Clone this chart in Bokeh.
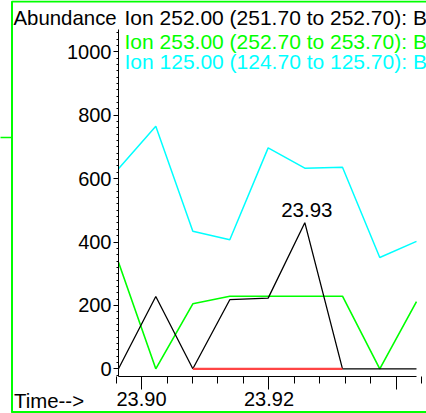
import numpy as np
from bokeh.plotting import figure
from bokeh.models import (Range1d, FixedTicker, SingleIntervalTicker, Label,
                          BoxAnnotation, ColumnDataSource, PrintfTickFormatter,
                          LinearAxis)
from bokeh.embed import file_html
from bokeh.resources import INLINE

# ---- data ----
times = [23.89639, 23.90224, 23.90805, 23.91385, 23.91987,
         23.92562, 23.93153, 23.93738, 23.94314]
ion252 = [0, 228, 0, 218, 223, 461, 0, 0, 0]
ion253 = [336, 0, 205, 229, 229, 229, 229, 0, 212]
ion125 = [631, 765, 434, 407, 697, 633, 636, 351, 402]
baseline_red = [np.nan, np.nan, 0, 0, 0, 0, 0, np.nan, np.nan]

legend_texts = ["Ion 252.00 (251.70 to 252.70): B",
                "Ion 253.00 (252.70 to 253.70): B",
                "Ion 125.00 (124.70 to 125.70): B"]
legend_colors = ["#000000", "#00ff00", "#00ffff"]
y_title = "Abundance"
x_title = "Time-->"

x_major = [23.90, 23.92, 23.94]
x_minor = [round(23.896 + 0.004 * i, 3) for i in range(13)]
x_label_over = {23.94: ""}
peak_label = "23.93"
peak_index = 5
y_axis_bottom = -23
y_axis_top = 1070

# ---- layout (pixels) ----
W, H = 426, 413
X0_PX = 118.0            # pixel of first scan
XSCALE = 6374.0          # px per minute
Y0_PX = 368.3            # pixel of zero abundance
YSCALE = 0.317           # px per count
BASE_FIX = 5.5           # label baseline correction

FONT = "Liberation Sans"
FS = "20px"

x_start = times[0] - X0_PX / XSCALE
x_end = times[0] + (W - X0_PX) / XSCALE
y_start = -(H - Y0_PX) / YSCALE
y_end = Y0_PX / YSCALE

p = figure(width=W, height=H, output_backend="svg", toolbar_location=None,
           title=None, x_axis_type=None, y_axis_type=None,
           x_range=Range1d(x_start, x_end), y_range=Range1d(y_start, y_end),
           min_border=0)
p.outline_line_color = None
p.xgrid.visible = False
p.ygrid.visible = False
p.background_fill_color = "white"
p.border_fill_color = "white"

xa = LinearAxis(fixed_location=y_axis_bottom, bounds=(times[0], times[-1]))
ya = LinearAxis(fixed_location=times[0], bounds=(y_axis_bottom, y_axis_top))
p.add_layout(xa, "below")
p.add_layout(ya, "left")

src = ColumnDataSource(dict(t=times, a=ion252, b=ion253, c=ion125, r=baseline_red))
p.line("t", "c", source=src, color="#00ffff", line_width=1.5)
p.line("t", "b", source=src, color="#00ff00", line_width=1.6)
p.line("t", "a", source=src, color="#000000", line_width=1.3)
p.line("t", "r", source=src, color="#ff4444", line_width=2.2)

xa.ticker = FixedTicker(ticks=x_major, minor_ticks=x_minor)
xa.formatter = PrintfTickFormatter(format="%.2f")
xa.major_label_overrides = x_label_over
xa.major_tick_out = 13
xa.major_tick_in = 0
xa.minor_tick_out = 7
xa.minor_tick_in = 0
xa.major_label_standoff = 3
ya.ticker = SingleIntervalTicker(interval=200, num_minor_ticks=10)
ya.major_tick_out = 5
ya.major_tick_in = 0
ya.minor_tick_out = 2
ya.minor_tick_in = 0
ya.major_label_standoff = 2
for ax in (xa, ya):
    ax.axis_line_color = "black"
    ax.major_tick_line_color = "black"
    ax.minor_tick_line_color = "black"
    ax.major_label_text_font = FONT
    ax.major_label_text_font_size = FS
    ax.major_label_text_color = "black"

# peak label
p.add_layout(Label(x=times[peak_index], y=ion252[peak_index], text=peak_label,
                   text_font=FONT, text_font_size="20.5px", text_align="center",
                   text_color="black",
                   text_baseline="alphabetic", x_offset=2, y_offset=7 + BASE_FIX))

# header/footer texts (screen units; frame == canvas)
def lab(x, y_from_top, text, color="black", size="20.4px"):
    p.add_layout(Label(x=x, y=H - y_from_top + BASE_FIX, x_units="screen",
                       y_units="screen", text=text, text_font=FONT,
                       text_font_size=size, text_color=color,
                       text_baseline="alphabetic"))

lab(13, 22.5, y_title)
lab(13.5, 405.5, x_title)
for txt, col, yy in zip(legend_texts, legend_colors, [22.5, 46.5, 66.5]):
    lab(124, yy, txt, col, "21px")

# green panel frame (and the neighbouring panel's edge)
p.add_layout(BoxAnnotation(left=11.5, right=W + 50, bottom=H - 411.5, top=H - 1,
                           left_units="screen", right_units="screen",
                           bottom_units="screen", top_units="screen",
                           fill_alpha=0, line_color="#00ff00", line_alpha=1.0,
                           line_width=2))
p.add_layout(BoxAnnotation(left=-50, right=11.5, bottom=-50, top=H - 137,
                           left_units="screen", right_units="screen",
                           bottom_units="screen", top_units="screen",
                           fill_alpha=0, line_color="#00ff00", line_alpha=1.0,
                           line_width=1.5))

open("out.html", "w").write(file_html(p, INLINE))
